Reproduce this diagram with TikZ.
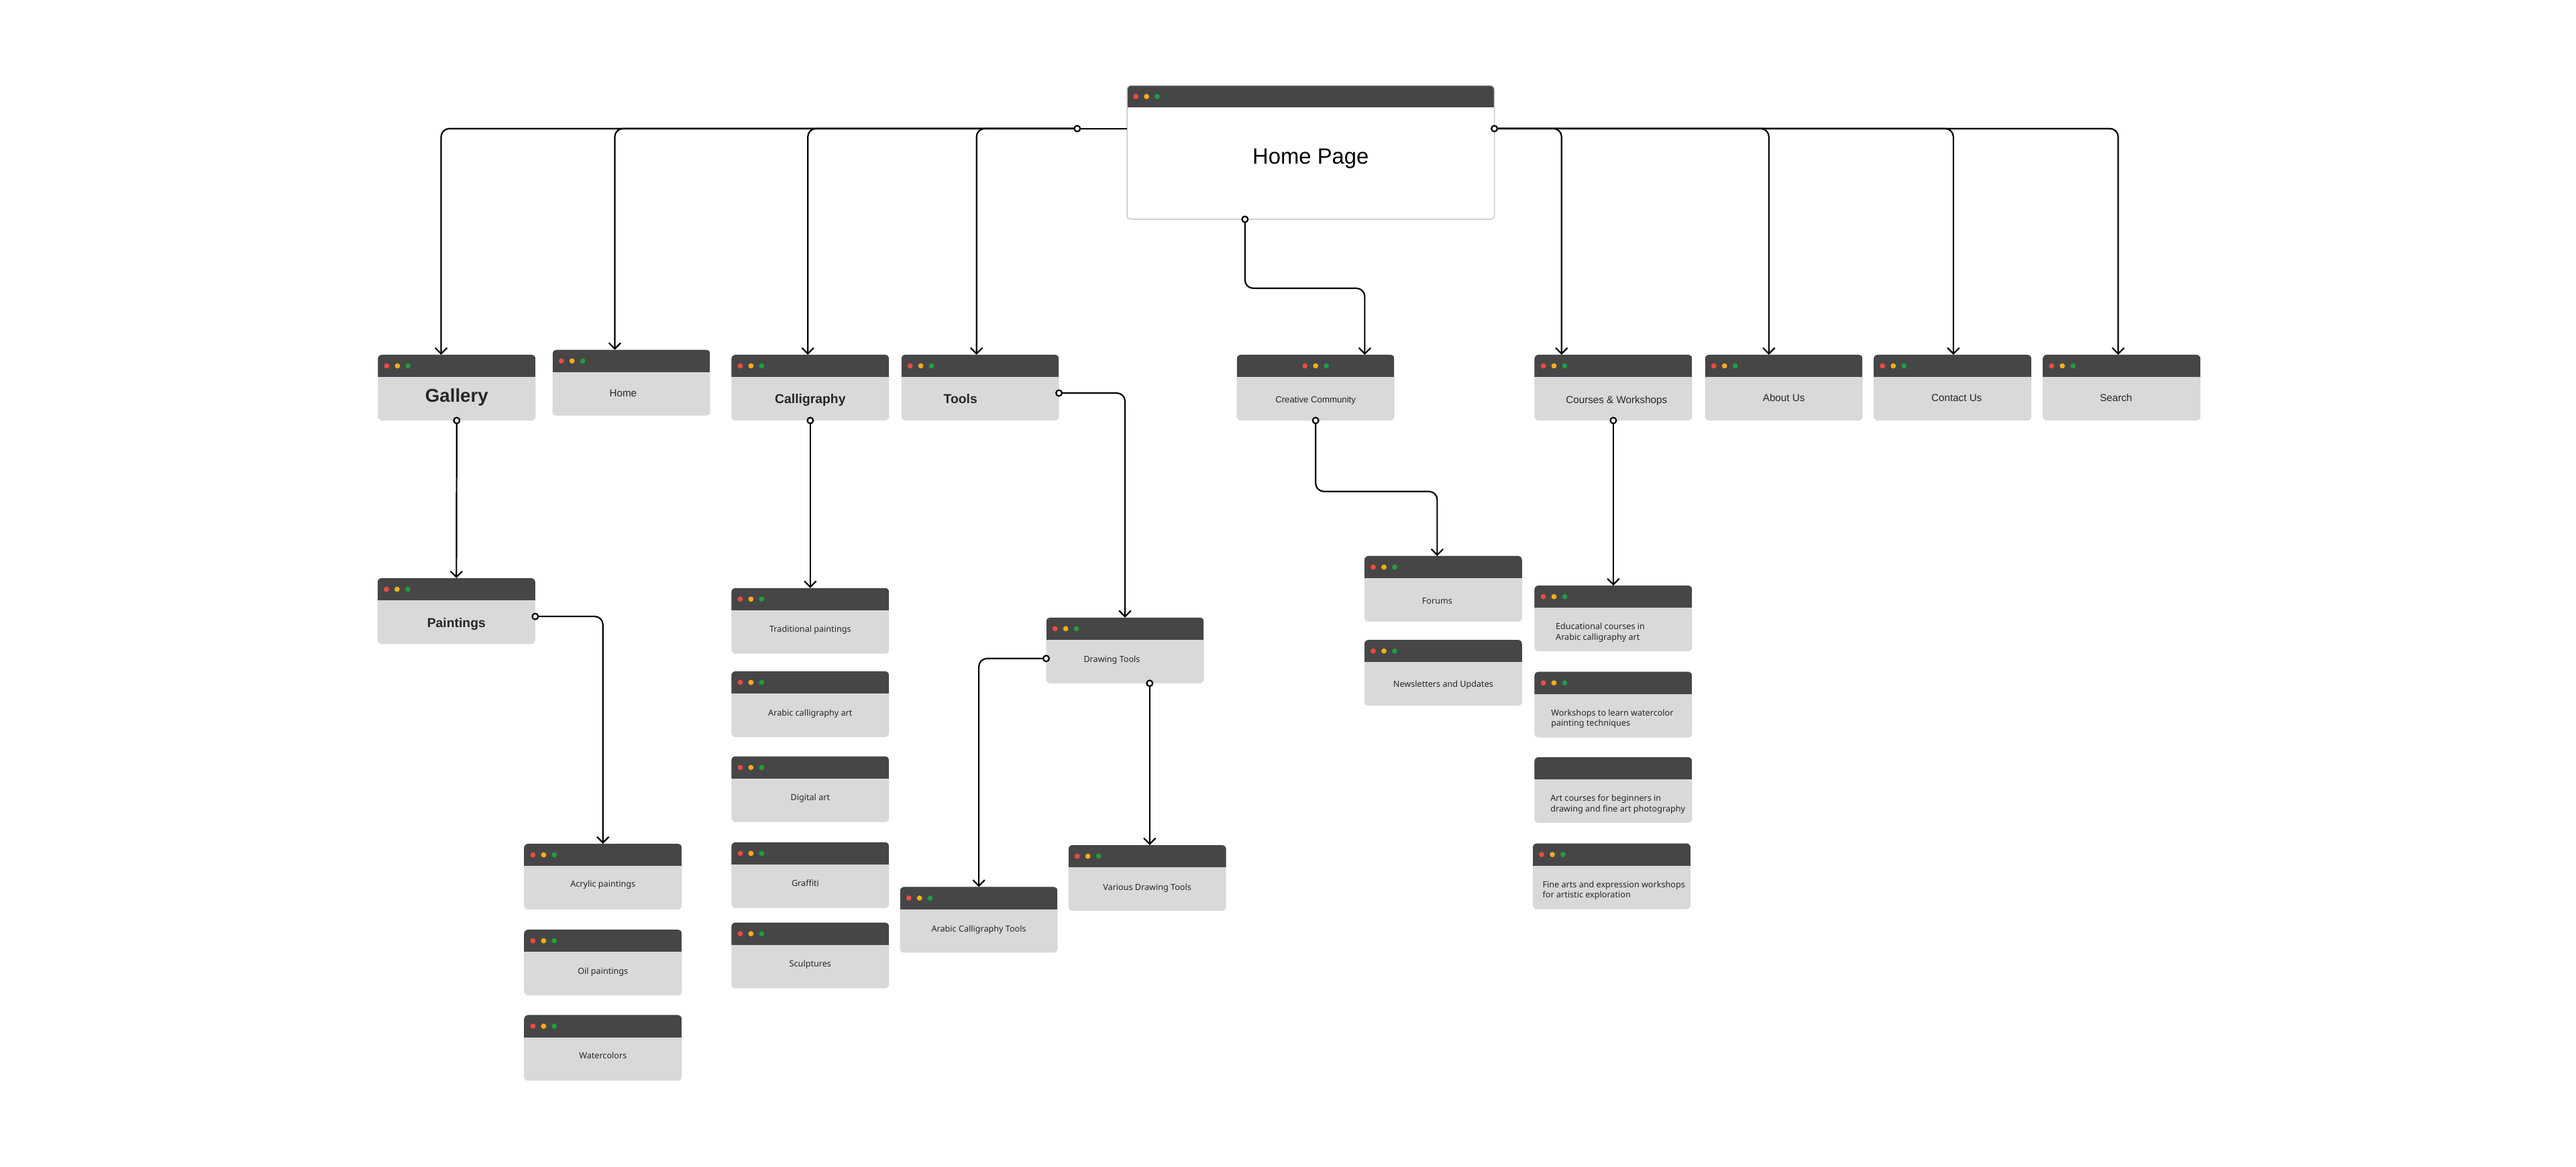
\documentclass[tikz,border=0pt]{standalone}
\usepackage{fontspec}
\setmainfont{Liberation Sans}
\newfontfamily\notofont{Noto Sans}
\usetikzlibrary{arrows.meta}
\definecolor{headc}{HTML}{464646}
\definecolor{bodyc}{HTML}{D9D9D9}
\definecolor{dotr}{HTML}{F04943}
\definecolor{doty}{HTML}{F6AE1C}
\definecolor{dotg}{HTML}{1E9E40}
\definecolor{txtc}{HTML}{262626}
\definecolor{edgec}{HTML}{C9C9C9}
\newcommand\hdrfill{\fill[headc,sharp corners] ([yshift=1pt]path picture bounding box.north west) rectangle ([yshift=-13.5pt]path picture bounding box.north east);}
\newcommand\dotsat[1]{%
  \fill[dotr] ([xshift=#1pt,yshift=-6.75pt]path picture bounding box.north west) circle[radius=1.6pt];
  \fill[doty] ([xshift=#1pt+6.5pt,yshift=-6.75pt]path picture bounding box.north west) circle[radius=1.6pt];
  \fill[dotg] ([xshift=#1pt+13pt,yshift=-6.75pt]path picture bounding box.north west) circle[radius=1.6pt];}
\tikzset{
  winbase/.style={rounded corners=2.5pt, fill=bodyc, minimum width=96pt, minimum height=40pt,
    inner sep=0pt, outer sep=0pt, anchor=north west},
  win/.style={winbase, path picture={\hdrfill\dotsat{5.4}}},
  wincd/.style={winbase, path picture={\hdrfill\dotsat{41.5}}},
  winnd/.style={winbase, path picture={\hdrfill}},
  homewin/.style={rounded corners=2.5pt, fill=white, draw=edgec, line width=0.6pt,
    minimum width=223.6pt, minimum height=81.5pt, inner sep=0pt, outer sep=0pt, anchor=north west,
    path picture={\hdrfill\dotsat{5.4}}},
  lbl/.style={inner sep=0pt, text=txtc, anchor=base},
  lone/.style={lbl, font=\fontsize{6.2}{7.4}\selectfont},
  lcc/.style={lbl, font=\fontsize{5.4}{6.5}\selectfont},
  lbold/.style={lbl, font=\bfseries\fontsize{7.9}{9.5}\selectfont},
  lsm/.style={lbl, font=\notofont\fontsize{5.15}{6.4}\selectfont},
  lmulti/.style={inner sep=0pt, text=txtc, anchor=west, align=left, font=\notofont\fontsize{5.15}{6.4}\selectfont},
  conn/.style={line width=0.9pt, rounded corners=5pt, -{Straight Barb[length=3.6pt,width=7.2pt]}},
  plain/.style={line width=0.9pt},
  startc/.style={line width=0.9pt, fill=white},
}
\begin{document}
\begin{tikzpicture}[x=1pt,y=-1pt]
\fill[white] (0,0) rectangle (1568,710.1);
\useasboundingbox (0,0) rectangle (1568,710.1);

% boxes
\node[homewin] (homepage) at (686,52) {};
\node[win] (gallery) at (230,216) {};
\node[win] (homelink) at (336.3,213) {};
\node[win] (callig) at (445.2,216) {};
\node[win] (tools) at (548.6,216) {};
\node[wincd] (community) at (752.8,216) {};
\node[win] (courses) at (934,216) {};
\node[win] (about) at (1037.8,216) {};
\node[win] (contact) at (1140.5,216) {};
\node[win] (search) at (1243.4,216) {};
\node[win] (paintings) at (229.8,352) {};
\node[win] (trad) at (445.2,358) {};
\node[win] (arabart) at (445.2,408.7) {};
\node[win] (digital) at (445.2,460.5) {};
\node[win] (graffiti) at (445.2,512.8) {};
\node[win] (sculpt) at (445.2,561.7) {};
\node[win] (acrylic) at (319,513.7) {};
\node[win] (oil) at (319,566) {};
\node[win] (water) at (319,618) {};
\node[win] (drawing) at (636.8,376) {};
\node[win] (arabtools) at (547.8,540) {};
\node[win] (various) at (650.3,514.5) {};
\node[win] (forums) at (830.5,338.5) {};
\node[win] (news) at (830.5,389.6) {};
\node[win] (edu) at (934,356.5) {};
\node[win] (wshop) at (934,409) {};
\node[winnd] (artc) at (934,461) {};
\node[win] (fine) at (933,513.5) {};

% labels
\node[lbl, text=black, font=\fontsize{13.4}{16}\selectfont] (t-homepage) at ([yshift=-47.8pt]homepage.north) {Home Page};
\node[lbl, font=\bfseries\fontsize{11.3}{13}\selectfont] (t-gallery) at ([yshift=-28.7pt]gallery.north) {Gallery};
\node[lone] (t-homelink) at ([xshift=-5pt,yshift=-28.6pt]homelink.north) {Home};
\node[lbold] (t-callig) at ([yshift=-29.8pt]callig.north) {Calligraphy};
\node[lbold] (t-tools) at ([xshift=-12pt,yshift=-29.5pt]tools.north) {Tools};
\node[lcc] (t-community) at ([yshift=-29pt]community.north) {Creative Community};
\node[lone] (t-courses) at ([xshift=2pt,yshift=-29.5pt]courses.north) {Courses \& Workshops};
\node[lone] (t-about) at ([yshift=-28.3pt]about.north) {About Us};
\node[lone] (t-contact) at ([xshift=2.5pt,yshift=-28.3pt]contact.north) {Contact Us};
\node[lone] (t-search) at ([xshift=-3.4pt,yshift=-28.3pt]search.north) {Search};
\node[lbold] (t-paintings) at ([yshift=-29.8pt]paintings.north) {Paintings};
\node[lsm] (t-trad) at ([yshift=-27pt]trad.north) {Traditional paintings};
\node[lsm] (t-arabart) at ([yshift=-27pt]arabart.north) {Arabic calligraphy art};
\node[lsm] (t-digital) at ([yshift=-27pt]digital.north) {Digital art};
\node[lsm] (t-graffiti) at ([xshift=-3pt,yshift=-27pt]graffiti.north) {Graffiti};
\node[lsm] (t-sculpt) at ([yshift=-27pt]sculpt.north) {Sculptures};
\node[lsm] (t-acrylic) at ([yshift=-26.5pt]acrylic.north) {Acrylic paintings};
\node[lsm] (t-oil) at ([yshift=-27pt]oil.north) {Oil paintings};
\node[lsm] (t-water) at ([yshift=-26.5pt]water.north) {Watercolors};
\node[lsm] (t-drawing) at ([xshift=-8pt,yshift=-27.4pt]drawing.north) {Drawing Tools};
\node[lsm] (t-arabtools) at ([yshift=-27.2pt]arabtools.north) {Arabic Calligraphy Tools};
\node[lsm] (t-various) at ([yshift=-27.5pt]various.north) {Various Drawing Tools};
\node[lsm] (t-forums) at ([xshift=-3.7pt,yshift=-29pt]forums.north) {Forums};
\node[lsm] (t-news) at ([yshift=-28.9pt]news.north) {Newsletters and Updates};
\node[lmulti] (t-edu) at ([xshift=12.8pt,yshift=-28.6pt]edu.north west) {Educational courses in\\Arabic calligraphy art};
\node[lmulti] (t-wshop) at ([xshift=10pt,yshift=-28.6pt]wshop.north west) {Workshops to learn watercolor\\painting techniques};
\node[lmulti] (t-artc) at ([xshift=9.6pt,yshift=-28.6pt]artc.north west) {Art courses for beginners in\\drawing and fine art photography};
\node[lmulti] (t-fine) at ([xshift=5.8pt,yshift=-28.6pt]fine.north west) {Fine arts and expression workshops\\for artistic exploration};

% connector anchor points
\coordinate (hL) at ([yshift=-26.3pt]homepage.north west);
\coordinate (hLc) at ([xshift=-30.3pt]hL);
\coordinate (hR) at ([yshift=-26.3pt]homepage.north east);
\coordinate (hB) at ([xshift=-40pt]homepage.south);
\coordinate (hBm) at (0,175.5);
\coordinate (pR) at ([yshift=-23.3pt]paintings.north east);
\coordinate (tR) at ([yshift=-23.3pt]tools.north east);
\coordinate (dL) at ([yshift=-24.9pt]drawing.north west);
\coordinate (dB) at ([xshift=15pt]drawing.south);
\coordinate (cfm) at (0,299.2);

% connectors
\draw[plain] (hL) -- (hLc);
\draw[conn] (hLc) -| ([xshift=-9.5pt]gallery.north);
\draw[conn] (hLc) -| ([xshift=-10.1pt]homelink.north);
\draw[conn] (hLc) -| ([xshift=-1.5pt]callig.north);
\draw[conn] (hLc) -| ([xshift=-2.2pt]tools.north);
\draw[conn] (hR) -| ([xshift=-31.5pt]courses.north);
\draw[conn] (hR) -| ([xshift=-9.1pt]about.north);
\draw[conn] (hR) -| ([xshift=0.5pt]contact.north);
\draw[conn] (hR) -| ([xshift=-2.1pt]search.north);
\draw[conn] (hB) -- (hB |- hBm) -| ([xshift=29.9pt]community.north);
\draw[conn] (gallery.south) -- (paintings.north);
\draw[conn] (pR) -| (acrylic.north);
\draw[conn] (callig.south) -- (trad.north);
\draw[conn] (tR) -| (drawing.north);
\draw[conn] (dL) -| (arabtools.north);
\draw[conn] (dB) -- (dB |- various.north);
\draw[conn] (community.south) -- (community.south |- cfm) -| ([xshift=-3.7pt]forums.north);
\draw[conn] (courses.south) -- (edu.north);

% start markers
\foreach \p in {hLc,hR,hB,gallery.south,pR,callig.south,tR,dL,dB,community.south,courses.south}
  \draw[startc] (\p) circle[radius=1.8pt];
\end{tikzpicture}
\end{document}
